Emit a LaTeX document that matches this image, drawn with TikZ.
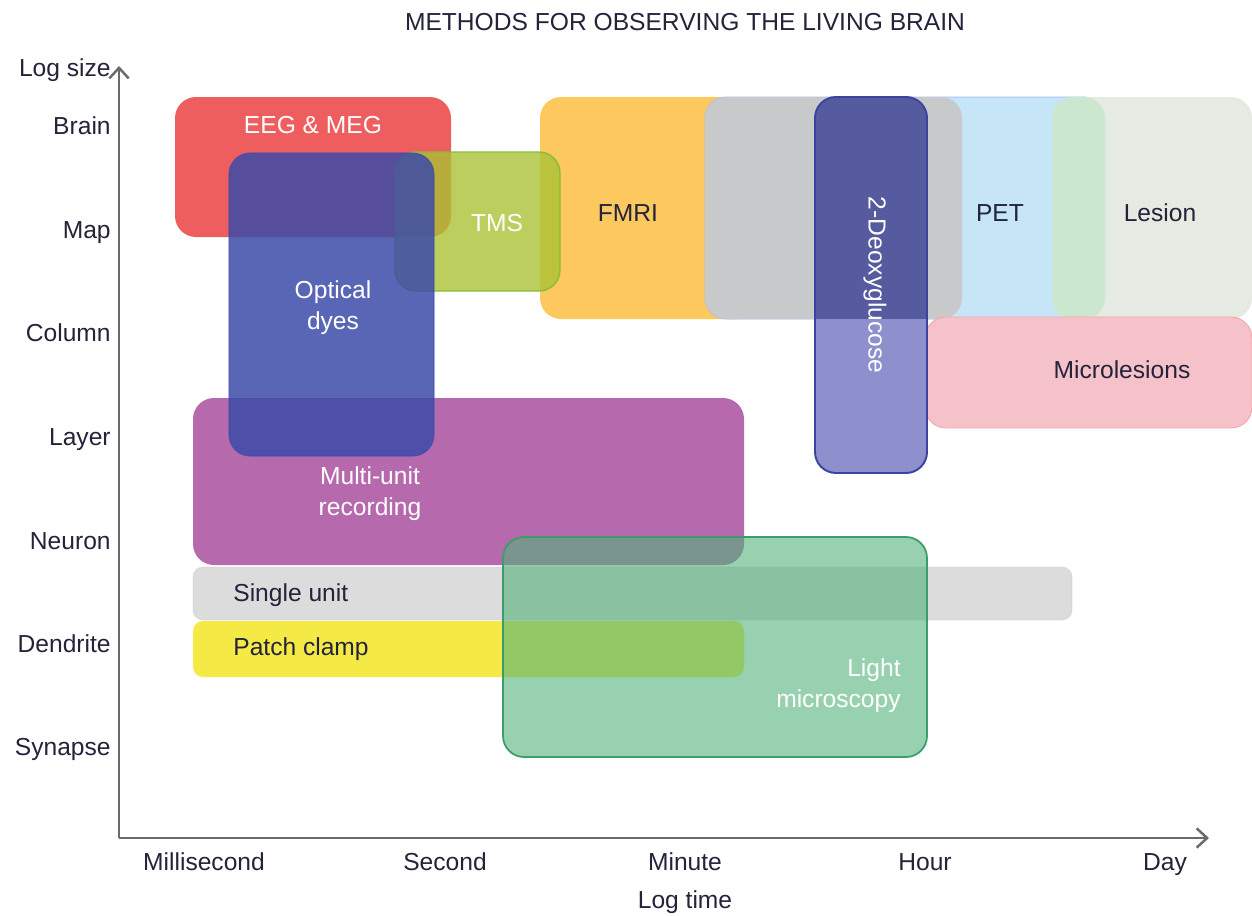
\documentclass[tikz,border=0pt]{standalone}
\usepackage{fontspec}
\setmainfont{Liberation Sans}
\usetikzlibrary{arrows.meta}

\definecolor{ink}{HTML}{23233A}
\definecolor{axisgrey}{HTML}{6A6A6A}
\definecolor{eegred}{HTML}{EE5050}
\definecolor{dyeblue}{HTML}{3C4BA8}
\definecolor{tmsgreen}{HTML}{ABC234}
\definecolor{tmsedge}{HTML}{8CBB3A}
\definecolor{fmriorange}{HTML}{FDC555}
\definecolor{greybox}{HTML}{C9C9C9}
\definecolor{petblue}{HTML}{C6E5F7}
\definecolor{lesiongrey}{HTML}{E5EAE2}
\definecolor{lesionmint}{HTML}{CBE7CF}
\definecolor{dgdark}{HTML}{565A9E}
\definecolor{dglight}{HTML}{8D90CC}
\definecolor{dgedge}{HTML}{3A44A0}
\definecolor{micropink}{HTML}{F6C2CA}
\definecolor{muaviolet}{HTML}{B262A9}
\definecolor{sugrey}{HTML}{DCDCDC}
\definecolor{patchyellow}{HTML}{F5EA45}
\definecolor{lmgreen}{HTML}{52B27A}
\definecolor{lmedge}{HTML}{3C9C6C}

\begin{document}
\begin{tikzpicture}[x=0.02cm, y=-0.02cm,
  font=\fontsize{14}{17.5}\selectfont, text=ink,
  box/.style={rounded corners=0.42cm},
  lbl/.style={inner sep=0pt, align=center},
  wlbl/.style={lbl, text=white},
  ylbl/.style={inner sep=0pt, anchor=base east},
  xlbl/.style={inner sep=0pt, anchor=base},
  axisline/.style={draw=axisgrey, line width=1.6pt,
    -{Straight Barb[length=6pt, width=11pt, line width=1.4pt]}},
  mEEG/.style={box, fill=eegred, fill opacity=0.92},
  mDye/.style={box, fill=dyeblue, fill opacity=0.85, draw=dyeblue, draw opacity=0.6, line width=0.6pt},
  mTMS/.style={box, fill=tmsgreen, fill opacity=0.8, draw=tmsedge, line width=0.8pt},
  mFMRI/.style={box, fill=fmriorange, fill opacity=0.95},
  mGrey/.style={box, fill=greybox, fill opacity=0.97},
  mPET/.style={box, fill=petblue, draw=petblue!80!blue, line width=0.5pt},
  mLesion/.style={box, fill=lesiongrey},
  mDG/.style={box, draw=dgedge, line width=1.1pt},
  mMicro/.style={box, fill=micropink, draw=micropink!85!red, line width=0.5pt},
  mMUA/.style={box, fill=muaviolet, fill opacity=0.95},
  mSU/.style={rounded corners=0.2cm, fill=sugrey, draw=sugrey!90!black, draw opacity=0.4, line width=0.5pt},
  mPatch/.style={rounded corners=0.2cm, fill=patchyellow},
  mLM/.style={box, fill=lmgreen, fill opacity=0.6, draw=lmedge, line width=1pt},
]
\useasboundingbox (0,0) rectangle (1252,916);

% title
\node[xlbl] (title) at (685,31) {METHODS FOR OBSERVING THE LIVING BRAIN};

% ---- method regions (drawn back to front) ----
\path[mMUA]   (193,398) rectangle (744,565);
\path[mEEG]   (175,97)  rectangle (451,237);
\path[mFMRI]  (540,97)  rectangle (760,319);
\path[mTMS]   (395,152) rectangle (560,291);
\path[mDye]   (229,153) rectangle (434,456);
\path[mPET]   (705,97)  rectangle (1105,319);
\path[mGrey]  (705,97)  rectangle (962,319);
\path[mLesion](1052,97) rectangle (1252,319);
% where lesion and PET share the range the band turns mint
\begin{scope}
  \clip[box] (705,97) rectangle (1105,319);
  \fill[lesionmint, box] (1052,97) rectangle (1252,319);
\end{scope}
\path[mMicro] (925,317) rectangle (1252,428);

% 2-deoxyglucose: darker where it lies over the imaging band
\begin{scope}
  \clip[box] (815,97) rectangle (927,473);
  \fill[dglight] (815,97) rectangle (927,473);
  \fill[dgdark]  (815,97) rectangle (927,319);
\end{scope}
\path[mDG] (815,97) rectangle (927,473);

\path[mSU]    (193,567) rectangle (1072,620);
\path[mPatch] (193,621) rectangle (744,677);
\path[mLM]    (503,537) rectangle (927,757);

% ---- region labels ----
\node[wlbl, anchor=base] (eegL) at (313,133) {EEG \& MEG};
\node[wlbl] (dyeL) at (333,308) {Optical\\dyes};
\node[wlbl, anchor=base] (tmsL) at (497,231) {TMS};
\node[lbl, anchor=base]  (fmriL) at (628,221) {FMRI};
\node[wlbl, rotate=-90] (dgL) at (875,285) {2-Deoxyglucose};
\node[lbl, anchor=base]  (petL) at (1000,221) {PET};
\node[lbl, anchor=base]  (lesionL) at (1160,221) {Lesion};
\node[lbl, anchor=base]  (microL) at (1122,378) {Microlesions};
\node[wlbl] (muaL) at (370,494) {Multi-unit\\recording};
\node[lbl, anchor=base west] (suL) at (233,601) {Single unit};
\node[lbl, anchor=base west] (patchL) at (233,655) {Patch clamp};
\node[wlbl, align=right, anchor=east] (lmL) at (901,686) {Light\\microscopy};

% ---- axes ----
\coordinate (origin) at (119,838);
\coordinate (ytop) at (119,66);
\coordinate (xend) at (1209,838);
\draw[axisline] (origin) -- (ytop);
\draw[axisline] (origin) -- (xend);

\node[ylbl] (ytitle)    at (111,76) {Log size};
\node[ylbl] (yBrain)    at (111,134) {Brain};
\node[ylbl] (yMap)      at (111,238) {Map};
\node[ylbl] (yColumn)   at (111,341) {Column};
\node[ylbl] (yLayer)    at (111,445) {Layer};
\node[ylbl] (yNeuron)   at (111,549) {Neuron};
\node[ylbl] (yDendrite) at (111,652) {Dendrite};
\node[ylbl] (ySynapse)  at (111,755) {Synapse};

\node[xlbl] (xMs)   at (204,870) {Millisecond};
\node[xlbl] (xSec)  at (445,870) {Second};
\node[xlbl] (xMin)  at (685,870) {Minute};
\node[xlbl] (xHour) at (925,870) {Hour};
\node[xlbl] (xDay)  at (1165,870) {Day};
\node[xlbl] (xtitle) at (685,908) {Log time};
\end{tikzpicture}
\end{document}
